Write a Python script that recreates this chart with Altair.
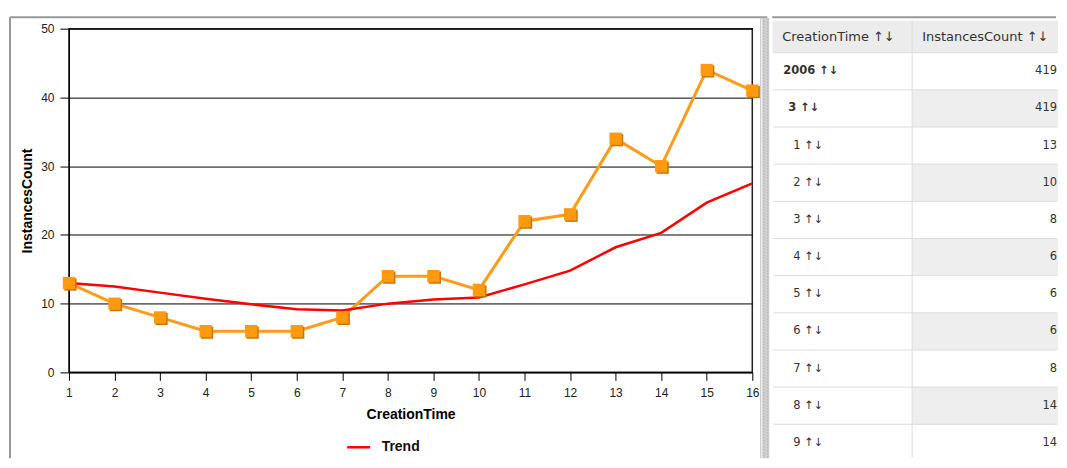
import altair as alt
import pandas as pd

# ---- chart data ----
days = list(range(1, 17))
counts = [13, 10, 8, 6, 6, 6, 8, 14, 14, 12, 22, 23, 34, 30, 44, 41]
trend = [13.0, 12.5, 11.6, 10.7, 9.9, 9.2, 9.0, 10.0, 10.6, 10.9, 12.8, 14.8, 18.2, 20.3, 24.7, 27.5]
y_ticks = [0, 10, 20, 30, 40, 50]

# ---- table data ----
headers = ["CreationTime", "InstancesCount"]
table_labels = ["2006", "3", "1", "2", "3", "4", "5", "6", "7", "8", "9"]
table_levels = [0, 1, 2, 2, 2, 2, 2, 2, 2, 2, 2]
table_values = [419, 419, 13, 10, 8, 6, 6, 6, 8, 14, 14]

ARROWS = " \u2191\u2193"
FONT = "Liberation Sans"
TFONT = "DejaVu Sans"

line_df = pd.DataFrame({"CreationTime": days, "InstancesCount": counts})
trend_df = pd.DataFrame({"CreationTime": days, "value": trend, "series": ["Trend"] * len(days)})
dummy = pd.DataFrame({"d": [0]})

x_enc = alt.X(
    "CreationTime:Q",
    scale=alt.Scale(domain=[1, 16], nice=False, zero=False),
    axis=alt.Axis(
        values=days, grid=False, tickSize=8, tickColor="#000", domainColor="#000",
        labelFont=FONT, labelFontSize=12, labelColor="#222", labelPadding=7, labelFlush=False,
        title="CreationTime", titleFont=FONT, titleFontSize=14, titleFontWeight="bold",
        titleColor="#000", titlePadding=9,
    ),
)
y_scale = alt.Scale(domain=[0, 50], nice=False)
y_axis = alt.Axis(
    values=y_ticks, grid=True, gridColor="#000", gridWidth=1, tickSize=9, tickColor="#000",
    domainColor="#000", labelFont=FONT, labelFontSize=12, labelColor="#222", labelPadding=6,
    title="InstancesCount", titleFont=FONT, titleFontSize=14, titleFontWeight="bold",
    titleColor="#000", titlePadding=6,
)

base = alt.Chart(line_df)
orange_line = base.mark_line(color="#FF9B1A", strokeWidth=3).encode(
    x=x_enc, y=alt.Y("InstancesCount:Q", scale=y_scale, axis=y_axis)
)
shadow = base.mark_point(shape="square", filled=True, size=150, color="#C87800", opacity=1,
                         xOffset=1.5, yOffset=1.5).encode(x="CreationTime:Q", y="InstancesCount:Q")
squares = base.mark_point(shape="square", filled=True, size=150, color="#FF9A10", opacity=1).encode(
    x="CreationTime:Q", y="InstancesCount:Q"
)
trend_line = alt.Chart(trend_df).mark_line(strokeWidth=2.5).encode(
    x="CreationTime:Q",
    y="value:Q",
    color=alt.Color(
        "series:N",
        scale=alt.Scale(domain=["Trend"], range=["#FF0000"]),
        legend=alt.Legend(
            title=None, orient="none", legendX=277, legendY=406, symbolType="stroke",
            symbolStrokeWidth=2.5, symbolSize=529, labelFont=FONT, labelFontSize=14,
            labelFontWeight="bold", labelColor="#111", padding=0, labelOffset=10,
        ),
    ),
)

deco = alt.Chart(dummy)
frame_top = deco.mark_rule(color="#999", strokeWidth=2).encode(
    x=alt.value(-59), x2=alt.value(699), y=alt.value(-11.5))
frame_left = deco.mark_rule(color="#999", strokeWidth=2).encode(
    x=alt.value(-59), y=alt.value(-11.5), y2=alt.value(430))
frame_right = deco.mark_rule(color="#BBB", strokeWidth=1).encode(
    x=alt.value(692.5), y=alt.value(-11.5), y2=alt.value(430))
sep_bg = deco.mark_rect(color="#CFCFCF").encode(
    x=alt.value(694), x2=alt.value(701), y=alt.value(-11), y2=alt.value(430))
sep_d1 = deco.mark_rule(color="#A0A0A0", strokeWidth=1, strokeDash=[1, 2]).encode(
    x=alt.value(695.5), y=alt.value(-11), y2=alt.value(430))
sep_d2 = deco.mark_rule(color="#A0A0A0", strokeWidth=1, strokeDash=[1, 2]).encode(
    x=alt.value(699.5), y=alt.value(-10), y2=alt.value(430))

left = alt.layer(
    frame_top, frame_left, frame_right, sep_bg, sep_d1, sep_d2,
    orange_line, trend_line, shadow, squares,
).properties(width=684, height=344, view=alt.ViewBackground(stroke="#222", strokeWidth=1.5))

# ---- table ----
n = len(table_labels)
rows = pd.DataFrame({
    "k": list(range(n)),
    "mid": [k + 0.5 for k in range(n)],
    "label": [l + ARROWS for l in table_labels],
    "level": table_levels,
    "value": [str(v) for v in table_values],
    "bold": [lv < 2 for lv in table_levels],
})
shade = pd.DataFrame({"k": [k for k in range(n + 1) if k % 2 == 1]})
shade["k1"] = shade["k"] + 1
lines = pd.DataFrame({"k": list(range(n))})
head = pd.DataFrame({"col": [0, 1], "text": [h + ARROWS for h in headers]})

TW = 286
ty = alt.Scale(domain=[0, 11.2], range=[24, 440.6])

t_top = alt.Chart(dummy).mark_rule(color="#999", strokeWidth=2).encode(
    x=alt.value(0), x2=alt.value(TW - 2), y=alt.value(-11.5))
head_bg = alt.Chart(dummy).mark_rect(color="#ECECEC").encode(
    x=alt.value(0), x2=alt.value(TW), y=alt.value(-8), y2=alt.value(24))
shade_rect = alt.Chart(shade).mark_rect(color="#EEEEEE", clip=True).encode(
    x=alt.value(140), x2=alt.value(TW),
    y=alt.Y("k:Q", scale=ty, axis=None), y2="k1:Q")
row_lines = alt.Chart(lines).mark_rule(color="#DCDCDC", strokeWidth=1).encode(
    x=alt.value(1), x2=alt.value(TW - 1), y=alt.Y("k:Q", scale=ty, axis=None))
col_line = alt.Chart(dummy).mark_rule(color="#DCDCDC", strokeWidth=1).encode(
    x=alt.value(140), y=alt.value(-8), y2=alt.value(429))
head_text = alt.Chart(head).mark_text(align="left", baseline="middle", font=TFONT,
                                      fontSize=13, color="#333").encode(
    x=alt.X("col:Q", scale=alt.Scale(domain=[0, 1], range=[10, 150]), axis=None),
    y=alt.value(8), text="text:N")
label_bold = alt.Chart(rows).transform_filter("datum.bold").mark_text(
    align="left", baseline="middle", font=TFONT, fontSize=11.5, fontWeight="bold", color="#333"
).encode(
    x=alt.X("level:Q", scale=alt.Scale(domain=[0, 2], range=[11, 21]), axis=None),
    y=alt.Y("mid:Q", scale=ty, axis=None), text="label:N")
label_norm = alt.Chart(rows).transform_filter("!datum.bold").mark_text(
    align="left", baseline="middle", font=TFONT, fontSize=11.5, color="#333"
).encode(
    x=alt.X("level:Q", scale=alt.Scale(domain=[0, 2], range=[11, 21]), axis=None),
    y=alt.Y("mid:Q", scale=ty, axis=None), text="label:N")
value_text = alt.Chart(rows).mark_text(
    align="right", baseline="middle", font=TFONT, fontSize=11.5, color="#333"
).encode(x=alt.value(TW - 1), y=alt.Y("mid:Q", scale=ty, axis=None), text="value:N")

table = alt.layer(
    t_top, head_bg, shade_rect, row_lines, col_line,
    head_text, label_bold, label_norm, value_text,
).resolve_scale(x="independent").properties(width=TW, height=430)

chart = alt.hconcat(left, table, spacing=0).properties(
    padding={"left": 0, "top": 6.5, "right": 0, "bottom": 0}
).configure_view(stroke="transparent")

chart.save("out.html", embed_options={"renderer": "svg", "actions": False})
